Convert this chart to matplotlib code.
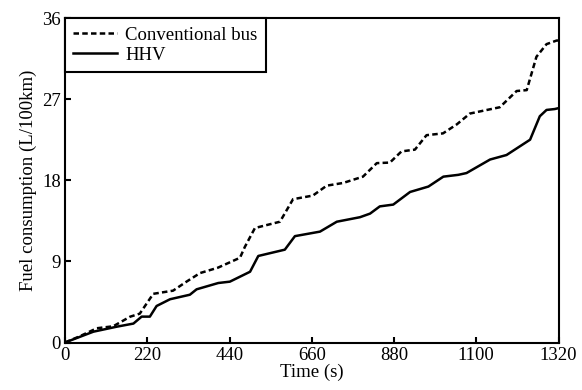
import matplotlib.pyplot as plt
import numpy as np

# fuel consumption over the driving cycle (read at break points)
t_bus = [0, 40, 85, 129, 174, 200, 236, 289, 325, 361, 409, 468, 481, 508, 575,
         610, 663, 700, 744, 797, 834, 869, 900, 936, 967, 1011, 1048, 1083,
         1163, 1208, 1235, 1261, 1288, 1315, 1320]
fc_bus = [0, 0.7, 1.58, 1.8, 2.86, 3.2, 5.4, 5.75, 6.75, 7.7, 8.3, 9.4, 10.6,
          12.7, 13.4, 15.9, 16.3, 17.4, 17.7, 18.4, 19.9, 19.96, 21.2, 21.4,
          23.0, 23.2, 24.2, 25.4, 26.1, 27.9, 28.0, 31.7, 33.1, 33.5, 33.5]

t_hhv = [0, 76, 138, 183, 205, 227, 245, 281, 334, 352, 410, 441, 495, 517,
         588, 615, 682, 727, 789, 816, 842, 878, 923, 972, 1012, 1052, 1074,
         1137, 1181, 1244, 1270, 1288, 1310, 1320]
fc_hhv = [0, 1.2, 1.75, 2.1, 2.87, 2.87, 4.05, 4.8, 5.3, 5.9, 6.6, 6.75, 7.85,
          9.6, 10.3, 11.8, 12.3, 13.4, 13.9, 14.3, 15.1, 15.3, 16.7, 17.3,
          18.4, 18.6, 18.8, 20.3, 20.8, 22.5, 25.1, 25.8, 25.9, 26.0]

plt.rcParams['font.family'] = ['Liberation Serif', 'DejaVu Serif']
plt.rcParams['font.size'] = 13.5

fig = plt.figure(figsize=(5.82, 3.90), dpi=100)
ax = fig.add_axes([65/582, 1-342.5/390, (558.5-65)/582, (342.5-18)/390])

ax.plot(t_bus, fc_bus, 'k--', lw=1.8, dashes=(2.2, 1.3), label='Conventional bus')
ax.plot(t_hhv, fc_hhv, 'k-', lw=1.8, label='HHV')

ax.set_xlim(0, 1320)
ax.set_ylim(0, 36)
ax.set_xticks(np.arange(0, 1321, 220))
ax.set_yticks(np.arange(0, 37, 9))
ax.tick_params(direction='in', length=4, width=1.5, pad=3)
for sp in ax.spines.values():
    sp.set_linewidth(1.5)

ax.set_xlabel('Time (s)', labelpad=0)
ax.set_ylabel('Fuel consumption (L/100km)', labelpad=4)

leg = ax.legend(loc='upper left', borderaxespad=0, fancybox=False,
                edgecolor='black', framealpha=1, handlelength=2.3,
                handletextpad=0.45, borderpad=0.45, labelspacing=0.15)
leg.get_frame().set_linewidth(1.5)

plt.savefig('out.png', dpi=100)
